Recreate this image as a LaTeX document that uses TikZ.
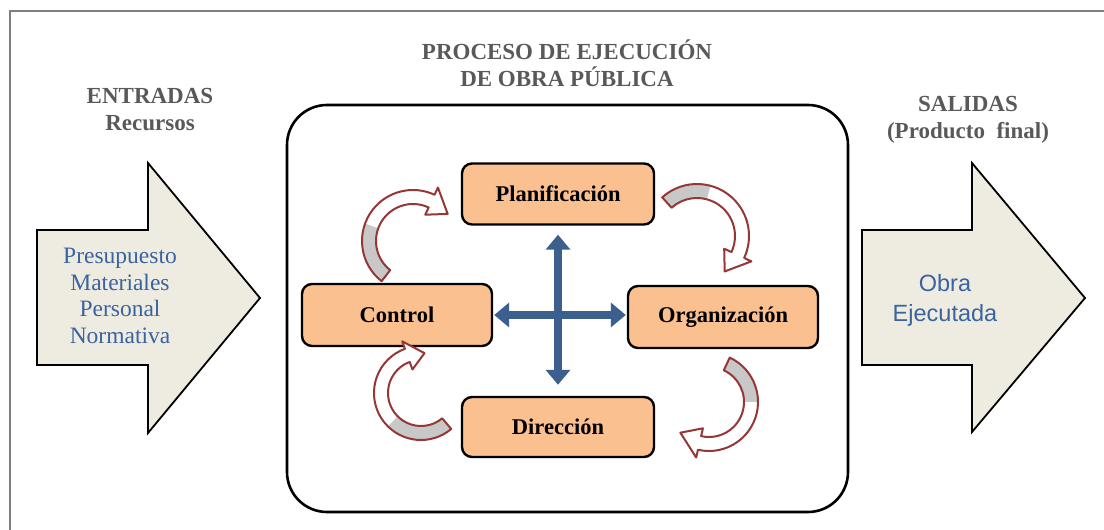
\documentclass[tikz,border=0pt]{standalone}
\usepackage{fontspec}
\setmainfont{Liberation Serif}
\newfontfamily\arialf{Liberation Sans}
\usetikzlibrary{arrows.meta,calc}
\definecolor{framegray}{HTML}{7F7F7F}
\definecolor{headgray}{HTML}{595959}
\definecolor{txtblue}{HTML}{3A63A0}
\definecolor{boxorange}{HTML}{FAC090}
\definecolor{arrowbeige}{HTML}{EEECE1}
\definecolor{crossblue}{HTML}{3B5F8E}
\definecolor{curvered}{HTML}{953735}
\definecolor{curvegray}{HTML}{C8C8C8}
\newcommand{\curvedarrow}[7]{%
  \pgfmathsetmacro{\ro}{#3+7}%
  \pgfmathsetmacro{\ri}{#3-7}%
  \pgfmathsetmacro{\ho}{#3+15}%
  \pgfmathsetmacro{\hi}{#3-15}%
  \begin{scope}[shift={(#1,#2)}]
    \fill[white] (#4:\ro) arc[start angle=#4, end angle=#5, radius=\ro]
      -- (#5:\ho) -- (#6:#3) -- (#5:\hi) -- (#5:\ri)
      arc[start angle=#5, end angle=#4, radius=\ri] -- cycle;
    \fill[curvegray] (#4:\ro) arc[start angle=#4, end angle=#7, radius=\ro]
      -- (#7:\ri) arc[start angle=#7, end angle=#4, radius=\ri] -- cycle;
    \draw[curvered, line width=2pt, line join=round] (#4:\ro) arc[start angle=#4, end angle=#5, radius=\ro]
      -- (#5:\ho) -- (#6:#3) -- (#5:\hi) -- (#5:\ri)
      arc[start angle=#5, end angle=#4, radius=\ri] -- cycle;
  \end{scope}}
\begin{document}
\begin{tikzpicture}[x=1pt,y=1pt,
  stepbox/.style={draw=black, line width=2.4pt, fill=boxorange, rounded corners=10pt,
    font=\bfseries\fontsize{22.5}{26}\selectfont, inner sep=0pt},
  heading/.style={font=\bfseries\fontsize{23}{27}\selectfont, text=headgray, align=center},
  bigarrow/.style={draw=black, line width=1.8pt, fill=arrowbeige, line join=miter},
  crossarrow/.style={draw=crossblue, line width=8.5pt,
    {Triangle[length=15pt,width=24pt]}-{Triangle[length=15pt,width=24pt]}},
]
\useasboundingbox (0,0) rectangle (1104,530);
% frame
\draw[framegray, line width=1.4pt] (10,0) -- (10,519) -- (1104,519);
% big rounded rectangle
\draw[black, line width=2.6pt, rounded corners=40pt] (287,18) rectangle (848,425);
% input and output arrows
\draw[bigarrow] (37,300) -- (148,300) -- (148,367) -- (260,232) -- (148,97) -- (148,165) -- (37,165) -- cycle;
\draw[bigarrow] (862,300) -- (972,300) -- (972,367) -- (1085,232) -- (972,98) -- (972,165) -- (862,165) -- cycle;
% texts
\node[font=\fontsize{23.5}{26.5}\selectfont, text=txtblue, align=center] (inputs) at (120,234)
  {Presupuesto\\Materiales\\Personal\\Normativa};
\node[font=\arialf\fontsize{23.5}{30}\selectfont, text=txtblue, align=center] (outputs) at (945,230)
  {Obra\\Ejecutada};
\node[heading] (entradas) at (150,420) {ENTRADAS\\Recursos};
\node[heading] (salidas) at (968,410) {SALIDAS\\(Producto\ \ final)};
\node[heading] (proceso) at (567,467) {PROCESO DE EJECUCIÓN\\DE OBRA PÚBLICA};
% step boxes
\node[stepbox, minimum width=192pt, minimum height=61pt] (plan) at (558,336) {Planificación};
\node[stepbox, minimum width=190pt, minimum height=62pt] (control) at (397,215) {Control};
\node[stepbox, minimum width=190pt, minimum height=62pt] (org) at (723,213) {Organización};
\node[stepbox, minimum width=192pt, minimum height=60pt] (dir) at (558,103) {Dirección};
% cross
\draw[crossarrow, shorten <=9pt, shorten >=11pt] (plan.south) -- (dir.north);
\draw[crossarrow, shorten <=1pt, shorten >=1pt] (control.east) -- (control.east -| org.west);
% curved arrows
\curvedarrow{413}{289}{44}{232}{65}{38}{160}
\curvedarrow{697}{294}{45}{132}{-25}{-52}{75}
\curvedarrow{709}{128}{42}{65}{-103}{-133}{0}
\curvedarrow{421}{137}{40}{-50}{-250}{-275}{-135}
\end{tikzpicture}
\end{document}
